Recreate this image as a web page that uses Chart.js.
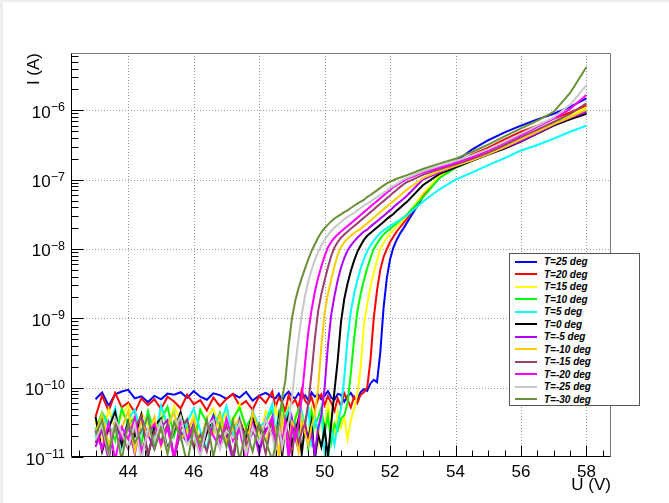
<!DOCTYPE html>
<html>
<head>
<meta charset="utf-8">
<script src="https://cdn.jsdelivr.net/npm/chart.js@4.4.0/dist/chart.umd.min.js"></script>
<style>
  html, body { margin: 0; padding: 0; background: #fff; }
  #wrap { position: relative; width: 669px; height: 503px; }
  #legend {
    position: absolute; left: 509px; top: 253px; width: 131px; height: 153px;
    box-sizing: border-box; background: #fff; border: 1px solid #555;
    padding-top: 1.5px;
    font: italic bold 10px "Liberation Sans", Arial, sans-serif; color: #000;
  }
  .item { height: 12.5px; display: flex; align-items: center; white-space: nowrap; }
  .swatch { display: inline-block; width: 22px; height: 2px; margin-left: 5px; margin-right: 7px; }
</style>
</head>
<body>
<div id="wrap">
  <canvas id="myChart" width="669" height="503"></canvas>
  <div id="legend"></div>
</div>
<script>
// voltage grid (V)
const U = [
  43.0, 43.2, 43.4, 43.6, 43.8, 44.0, 44.2, 44.4, 44.6, 44.8,
  45.0, 45.2, 45.4, 45.6, 45.8, 46.0, 46.2, 46.4, 46.6, 46.8,
  47.0, 47.2, 47.4, 47.6, 47.8, 48.0, 48.2, 48.4, 48.5, 48.6,
  48.7, 48.8, 48.9, 49.0, 49.1, 49.2, 49.3, 49.4, 49.5, 49.6,
  49.7, 49.8, 49.9, 50.0, 50.1, 50.2, 50.3, 50.4, 50.5, 50.6,
  50.7, 50.8, 50.9, 51.0, 51.1, 51.2, 51.3, 51.4, 51.5, 51.6,
  51.7, 51.8, 51.9, 52.0, 52.1, 52.2, 52.3, 52.4, 52.5, 53.0,
  53.5, 54.0, 54.5, 55.0, 55.5, 56.0, 56.5, 57.0, 57.5, 58.0
]

const X_TICKS = [44, 46, 48, 50, 52, 54, 56, 58]
const Y_TICKS = [1e-11, 1e-10, 1e-9, 1e-8, 1e-7, 1e-6]

const LABELS = ['T=25 deg', 'T=20 deg', 'T=15 deg', 'T=10 deg', 'T=5 deg', 'T=0 deg',
  'T=-5 deg', 'T=-10 deg', 'T=-15 deg', 'T=-20 deg', 'T=-25 deg', 'T=-30 deg']
const COLORS = ['#0000ff', '#ff0000', '#ffff00', '#00ff00', '#00ffff', '#000000',
  '#b300ff', '#ffcc00', '#99406e', '#ff00ff', '#c8c8c8', '#6a9038']

// current (A) for each temperature
const I_25 = [
  6.8e-11, 8.5e-11, 5.5e-11, 8.0e-11, 8.8e-11, 9.3e-11, 7.0e-11, 7.5e-11, 6.2e-11, 7.6e-11,
  6.8e-11, 8.2e-11, 7.9e-11, 8.6e-11, 7.1e-11, 8.9e-11, 7.4e-11, 6.7e-11, 8.3e-11, 7.8e-11,
  6.9e-11, 8.1e-11, 7.2e-11, 8.7e-11, 6.5e-11, 7.7e-11, 8.4e-11, 7.3e-11, 7.0e-11, 8.2e-11,
  6.4e-11, 7.9e-11, 8.8e-11, 7.5e-11, 6.9e-11, 8.3e-11, 7.1e-11, 7.8e-11, 6.6e-11, 8.5e-11,
  7.4e-11, 8.0e-11, 6.8e-11, 7.6e-11, 8.9e-11, 7.2e-11, 6.7e-11, 8.1e-11, 7.9e-11, 6.3e-11,
  7.5e-11, 8.4e-11, 7.0e-11, 6.8e-11, 8.6e-11, 9.5e-11, 9.0e-11, 1.15e-10, 1.3e-10, 1.2e-10,
  3.2e-10, 1.4e-9, 3.8e-9, 7.1e-9, 1.05e-8, 1.35e-8, 1.66e-8, 1.95e-8, 2.34e-8, 5.6e-8,
  1.05e-7, 1.82e-7, 2.7e-7, 3.7e-7, 4.8e-7, 6.0e-7, 7.4e-7, 8.9e-7, 1.12e-6, 1.48e-6
]
const I_20 = [
  3.8e-11, 7.7e-11, 4.6e-11, 8.4e-11, 5.2e-11, 6.1e-11, 4.4e-11, 7.0e-11, 5.6e-11, 6.8e-11,
  4.9e-11, 7.4e-11, 6.3e-11, 5.0e-11, 7.9e-11, 5.8e-11, 6.6e-11, 4.7e-11, 7.2e-11, 5.4e-11,
  6.9e-11, 8.1e-11, 5.5e-11, 6.4e-11, 4.8e-11, 7.6e-11, 6.0e-11, 8.8e-11, 5.3e-11, 7.1e-11,
  6.2e-11, 4.5e-11, 7.8e-11, 5.9e-11, 6.7e-11, 5.1e-11, 9.2e-11, 6.5e-11, 5.7e-11, 7.3e-11,
  4.9e-11, 6.8e-11, 8.0e-11, 5.6e-11, 7.5e-11, 6.1e-11, 4.6e-11, 7.0e-11, 5.4e-11, 8.3e-11,
  6.6e-11, 5.2e-11, 7.4e-11, 6.0e-11, 7.9e-11, 8.6e-11, 1.0e-10, 2.5e-10, 1.0e-9, 2.5e-9,
  5.0e-9, 7.6e-9, 1.0e-8, 1.26e-8, 1.5e-8, 1.78e-8, 2.04e-8, 2.34e-8, 2.7e-8, 6.0e-8,
  1.07e-7, 1.7e-7, 2.3e-7, 2.9e-7, 3.8e-7, 4.9e-7, 6.0e-7, 7.6e-7, 9.3e-7, 1.17e-6
]
const I_15 = [
  3.2e-11, 1.8e-11, 4.9e-11, 2.5e-11, 3.9e-11, 5.6e-11, 2.1e-11, 4.3e-11, 3.0e-11, 1.6e-11,
  4.7e-11, 2.7e-11, 5.4e-11, 3.4e-11, 2.0e-11, 4.1e-11, 1.5e-11, 3.7e-11, 5.0e-11, 2.4e-11,
  4.4e-11, 3.1e-11, 5.8e-11, 2.2e-11, 3.6e-11, 1.7e-11, 4.6e-11, 2.9e-11, 5.2e-11, 3.3e-11,
  1.9e-11, 4.0e-11, 5.5e-11, 2.6e-11, 3.8e-11, 1.4e-11, 4.8e-11, 3.0e-11, 2.3e-11, 5.1e-11,
  3.5e-11, 1.6e-11, 4.2e-11, 2.8e-11, 5.7e-11, 3.3e-11, 2.0e-11, 4.5e-11, 2.7e-11, 3.9e-11,
  1.8e-11, 3.4e-11, 5.0e-11, 8.0e-11, 2.0e-10, 7.9e-10, 1.6e-9, 2.8e-9, 4.5e-9, 6.9e-9,
  1.0e-8, 1.23e-8, 1.45e-8, 1.66e-8, 1.86e-8, 2.1e-8, 2.34e-8, 2.6e-8, 2.95e-8, 6.3e-8,
  1.12e-7, 1.55e-7, 1.95e-7, 2.45e-7, 3.1e-7, 3.8e-7, 5.0e-7, 6.8e-7, 8.5e-7, 1.1e-6
]
const I_10 = [
  2.4e-11, 4.4e-11, 3.0e-11, 1.7e-11, 5.0e-11, 2.8e-11, 3.8e-11, 1.5e-11, 4.6e-11, 2.2e-11,
  3.4e-11, 5.3e-11, 2.0e-11, 4.1e-11, 2.6e-11, 1.4e-11, 4.8e-11, 3.1e-11, 2.3e-11, 4.3e-11,
  1.8e-11, 3.6e-11, 5.1e-11, 2.7e-11, 4.0e-11, 1.6e-11, 3.3e-11, 4.7e-11, 2.1e-11, 3.9e-11,
  5.5e-11, 2.9e-11, 4.2e-11, 1.9e-11, 3.5e-11, 4.9e-11, 2.5e-11, 3.2e-11, 1.3e-11, 4.5e-11,
  2.8e-11, 3.7e-11, 5.2e-11, 2.2e-11, 4.0e-11, 1.6e-11, 3.0e-11, 2.4e-11, 3.6e-11, 4.0e-11,
  6.0e-11, 1.6e-10, 5.0e-10, 1.26e-9, 2.24e-9, 3.55e-9, 5.25e-9, 7.4e-9, 1.0e-8, 1.2e-8,
  1.41e-8, 1.62e-8, 1.78e-8, 1.95e-8, 2.14e-8, 2.34e-8, 2.57e-8, 2.82e-8, 3.1e-8, 5.5e-8,
  1.05e-7, 1.48e-7, 1.86e-7, 2.34e-7, 2.95e-7, 3.7e-7, 4.7e-7, 6.5e-7, 7.9e-7, 9.8e-7
]
const I_5 = [
  1.9e-11, 4.2e-11, 2.6e-11, 5.1e-11, 1.4e-11, 3.5e-11, 4.8e-11, 2.2e-11, 3.9e-11, 1.6e-11,
  5.5e-11, 2.9e-11, 4.4e-11, 1.8e-11, 3.2e-11, 5.0e-11, 2.4e-11, 1.3e-11, 4.0e-11, 3.0e-11,
  5.4e-11, 2.0e-11, 3.7e-11, 1.5e-11, 4.6e-11, 2.7e-11, 3.3e-11, 5.8e-11, 2.1e-11, 4.1e-11,
  1.2e-11, 3.6e-11, 4.9e-11, 2.5e-11, 3.1e-11, 1.7e-11, 4.5e-11, 2.8e-11, 5.2e-11, 1.4e-11,
  3.8e-11, 2.3e-11, 4.3e-11, 1.1e-11, 8.0e-12, 2.6e-11, 1.5e-11, 3.0e-11, 5.0e-11, 1.4e-10,
  5.0e-10, 1.26e-9, 2.24e-9, 3.55e-9, 5.25e-9, 7.2e-9, 9.3e-9, 1.12e-8, 1.32e-8, 1.51e-8,
  1.7e-8, 1.86e-8, 2.0e-8, 2.14e-8, 2.3e-8, 2.45e-8, 2.63e-8, 2.82e-8, 3.0e-8, 4.8e-8,
  7.2e-8, 1.0e-7, 1.26e-7, 1.62e-7, 2.04e-7, 2.63e-7, 3.16e-7, 3.9e-7, 4.9e-7, 6.0e-7
]
const I_0 = [
  3.8e-11, 1.2e-11, 2.6e-11, 4.5e-11, 1.5e-11, 3.3e-11, 2.0e-11, 4.1e-11, 1.0e-11, 2.8e-11,
  3.6e-11, 1.3e-11, 2.4e-11, 4.4e-11, 1.7e-11, 3.0e-11, 1.1e-11, 2.2e-11, 3.9e-11, 1.4e-11,
  2.7e-11, 9.0e-12, 3.4e-11, 1.9e-11, 4.2e-11, 1.2e-11, 2.5e-11, 3.1e-11, 1.6e-11, 3.7e-11,
  1.0e-11, 2.9e-11, 4.0e-11, 1.5e-11, 2.3e-11, 3.5e-11, 1.1e-11, 2.8e-11, 1.8e-11, 3.2e-11,
  9.0e-12, 2.1e-11, 1.4e-11, 2.6e-11, 1.0e-11, 3.0e-11, 8.9e-11, 2.5e-10, 8.9e-10, 1.9e-9,
  3.16e-9, 4.8e-9, 6.8e-9, 9.1e-9, 1.12e-8, 1.35e-8, 1.55e-8, 1.7e-8, 1.86e-8, 2.04e-8,
  2.24e-8, 2.45e-8, 2.7e-8, 2.95e-8, 3.2e-8, 3.55e-8, 3.9e-8, 4.3e-8, 4.7e-8, 8.3e-8,
  1.2e-7, 1.5e-7, 1.86e-7, 2.3e-7, 2.8e-7, 3.55e-7, 4.6e-7, 6.0e-7, 7.4e-7, 8.9e-7
]
const I_m5 = [
  1.4e-11, 2.5e-11, 9.0e-12, 3.2e-11, 1.8e-11, 2.9e-11, 1.1e-11, 3.7e-11, 2.1e-11, 1.3e-11,
  2.7e-11, 3.4e-11, 1.0e-11, 2.3e-11, 1.6e-11, 3.0e-11, 1.2e-11, 2.6e-11, 3.8e-11, 1.5e-11,
  2.0e-11, 9.0e-12, 3.3e-11, 1.7e-11, 2.8e-11, 1.1e-11, 3.5e-11, 2.2e-11, 1.4e-11, 3.0e-11,
  1.8e-11, 2.4e-11, 1.0e-11, 3.6e-11, 1.9e-11, 1.3e-11, 2.7e-11, 3.1e-11, 1.5e-11, 2.2e-11,
  1.1e-11, 2.6e-11, 4.0e-11, 1.0e-10, 4.0e-10, 1.12e-9, 2.1e-9, 3.55e-9, 5.4e-9, 7.4e-9,
  9.5e-9, 1.12e-8, 1.29e-8, 1.45e-8, 1.62e-8, 1.78e-8, 1.9e-8, 2.1e-8, 2.3e-8, 2.5e-8,
  2.75e-8, 3.0e-8, 3.3e-8, 3.6e-8, 4.0e-8, 4.4e-8, 4.8e-8, 5.25e-8, 5.75e-8, 1.0e-7,
  1.26e-7, 1.58e-7, 1.9e-7, 2.34e-7, 2.9e-7, 3.6e-7, 4.7e-7, 6.2e-7, 7.8e-7, 9.5e-7
]
const I_m10 = [
  2.2e-11, 4.1e-11, 1.5e-11, 3.0e-11, 2.6e-11, 4.6e-11, 1.2e-11, 3.4e-11, 2.0e-11, 3.8e-11,
  1.4e-11, 2.9e-11, 4.3e-11, 1.8e-11, 2.4e-11, 3.6e-11, 1.1e-11, 3.1e-11, 2.1e-11, 4.0e-11,
  1.6e-11, 2.7e-11, 3.5e-11, 1.3e-11, 4.4e-11, 2.3e-11, 1.7e-11, 3.3e-11, 2.5e-11, 1.0e-11,
  3.9e-11, 2.0e-11, 1.4e-11, 3.2e-11, 2.6e-11, 1.2e-11, 3.7e-11, 2.2e-11, 1.5e-11, 2.8e-11,
  4.0e-11, 1.0e-10, 4.0e-10, 1.2e-9, 2.24e-9, 3.6e-9, 5.6e-9, 8.3e-9, 1.07e-8, 1.26e-8,
  1.41e-8, 1.55e-8, 1.7e-8, 1.82e-8, 1.95e-8, 2.14e-8, 2.34e-8, 2.57e-8, 2.82e-8, 3.1e-8,
  3.4e-8, 3.7e-8, 4.1e-8, 4.5e-8, 4.9e-8, 5.4e-8, 5.9e-8, 6.5e-8, 7.1e-8, 1.05e-7,
  1.32e-7, 1.58e-7, 1.9e-7, 2.34e-7, 2.95e-7, 3.8e-7, 4.9e-7, 6.3e-7, 7.9e-7, 1.02e-6
]
const I_m15 = [
  1.6e-11, 2.8e-11, 1.0e-11, 3.3e-11, 2.0e-11, 1.3e-11, 2.6e-11, 3.9e-11, 1.1e-11, 2.3e-11,
  1.7e-11, 3.0e-11, 9.0e-12, 2.5e-11, 3.5e-11, 1.4e-11, 2.1e-11, 1.2e-11, 3.1e-11, 1.9e-11,
  2.7e-11, 1.0e-11, 3.4e-11, 1.5e-11, 2.2e-11, 2.9e-11, 1.1e-11, 3.6e-11, 1.8e-11, 2.4e-11,
  1.3e-11, 3.2e-11, 2.0e-11, 1.0e-11, 2.7e-11, 1.6e-11, 2.3e-11, 3.0e-11, 6.0e-11, 1.6e-10,
  5.0e-10, 1.26e-9, 2.24e-9, 3.55e-9, 5.4e-9, 7.9e-9, 1.05e-8, 1.26e-8, 1.45e-8, 1.62e-8,
  1.78e-8, 1.95e-8, 2.14e-8, 2.34e-8, 2.57e-8, 2.82e-8, 3.1e-8, 3.4e-8, 3.7e-8, 4.1e-8,
  4.5e-8, 4.9e-8, 5.4e-8, 5.9e-8, 6.5e-8, 7.1e-8, 7.8e-8, 8.5e-8, 9.1e-8, 1.17e-7,
  1.41e-7, 1.66e-7, 2.0e-7, 2.45e-7, 3.16e-7, 4.1e-7, 5.25e-7, 6.8e-7, 8.9e-7, 1.26e-6
]
const I_m20 = [
  2.4e-11, 1.3e-11, 3.1e-11, 9.0e-12, 2.7e-11, 1.8e-11, 3.7e-11, 1.2e-11, 2.2e-11, 3.0e-11,
  1.5e-11, 2.6e-11, 1.0e-11, 3.4e-11, 1.9e-11, 2.8e-11, 1.1e-11, 3.2e-11, 2.0e-11, 1.4e-11,
  3.6e-11, 1.7e-11, 2.5e-11, 9.0e-12, 3.0e-11, 1.6e-11, 2.3e-11, 3.8e-11, 1.2e-11, 2.9e-11,
  1.5e-11, 3.3e-11, 1.1e-11, 2.6e-11, 1.8e-11, 3.0e-11, 7.0e-11, 2.2e-10, 6.3e-10, 1.32e-9,
  2.4e-9, 3.8e-9, 5.6e-9, 7.9e-9, 1.05e-8, 1.26e-8, 1.45e-8, 1.62e-8, 1.78e-8, 1.95e-8,
  2.14e-8, 2.34e-8, 2.57e-8, 2.82e-8, 3.1e-8, 3.4e-8, 3.7e-8, 4.1e-8, 4.5e-8, 4.9e-8,
  5.4e-8, 5.9e-8, 6.5e-8, 7.1e-8, 7.8e-8, 8.3e-8, 8.9e-8, 9.5e-8, 1.02e-7, 1.26e-7,
  1.48e-7, 1.74e-7, 2.1e-7, 2.63e-7, 3.4e-7, 4.4e-7, 5.75e-7, 7.6e-7, 1.05e-6, 1.66e-6
]
const I_m25 = [
  1.8e-11, 2.9e-11, 1.1e-11, 3.6e-11, 2.2e-11, 1.4e-11, 3.0e-11, 9.0e-12, 2.5e-11, 1.7e-11,
  3.3e-11, 1.2e-11, 2.6e-11, 3.9e-11, 1.5e-11, 2.1e-11, 1.0e-11, 2.8e-11, 3.4e-11, 1.3e-11,
  2.4e-11, 1.9e-11, 3.1e-11, 1.1e-11, 2.7e-11, 1.6e-11, 3.5e-11, 2.0e-11, 1.2e-11, 2.9e-11,
  1.4e-11, 2.3e-11, 3.2e-11, 7.0e-11, 2.0e-10, 5.0e-10, 1.12e-9, 2.1e-9, 3.4e-9, 5.0e-9,
  6.9e-9, 9.1e-9, 1.12e-8, 1.35e-8, 1.58e-8, 1.82e-8, 2.04e-8, 2.24e-8, 2.45e-8, 2.7e-8,
  2.9e-8, 3.1e-8, 3.3e-8, 3.6e-8, 3.9e-8, 4.2e-8, 4.5e-8, 4.8e-8, 5.25e-8, 5.6e-8,
  6.0e-8, 6.5e-8, 6.9e-8, 7.6e-8, 8.1e-8, 8.7e-8, 9.3e-8, 1.0e-7, 1.05e-7, 1.32e-7,
  1.58e-7, 1.86e-7, 2.24e-7, 2.75e-7, 3.55e-7, 4.6e-7, 6.0e-7, 7.9e-7, 1.2e-6, 2.3e-6
]
const I_m30 = [
  2.1e-11, 3.4e-11, 1.2e-11, 2.8e-11, 9.0e-12, 3.1e-11, 1.6e-11, 2.4e-11, 3.8e-11, 1.3e-11,
  2.6e-11, 1.1e-11, 3.2e-11, 2.0e-11, 8.0e-12, 2.7e-11, 1.5e-11, 3.5e-11, 1.0e-11, 2.9e-11,
  1.4e-11, 3.3e-11, 9.0e-12, 2.5e-11, 1.2e-11, 3.0e-11, 1.7e-11, 9.0e-12, 1.5e-11, 3.0e-11,
  7.0e-11, 1.26e-10, 4.0e-10, 1.0e-9, 1.78e-9, 2.7e-9, 3.8e-9, 5.2e-9, 7.1e-9, 9.3e-9,
  1.17e-8, 1.45e-8, 1.74e-8, 2.0e-8, 2.24e-8, 2.5e-8, 2.75e-8, 2.95e-8, 3.16e-8, 3.4e-8,
  3.6e-8, 3.9e-8, 4.2e-8, 4.5e-8, 4.8e-8, 5.1e-8, 5.6e-8, 6.0e-8, 6.5e-8, 7.0e-8,
  7.6e-8, 8.2e-8, 8.8e-8, 9.3e-8, 9.8e-8, 1.03e-7, 1.07e-7, 1.11e-7, 1.15e-7, 1.42e-7,
  1.7e-7, 2.0e-7, 2.5e-7, 3.2e-7, 4.2e-7, 5.5e-7, 7.1e-7, 9.5e-7, 1.78e-6, 4.2e-6
]

const SERIES = [I_25, I_20, I_15, I_10, I_5, I_0, I_m5, I_m10, I_m15, I_m20, I_m25, I_m30]

const FONT = '"Liberation Sans", Arial, "DejaVu Sans", sans-serif'

// ROOT-like frame: dotted grid, grey top/right border, inner tick marks, 10^n labels
const rootFrame = {
    id: 'rootFrame',
    beforeDraw(chart) {
        const ctx = chart.ctx
        ctx.save()
        ctx.fillStyle = '#ffffff'
        ctx.fillRect(0, 0, chart.width, chart.height)
        ctx.fillStyle = '#eeeeee'
        ctx.fillRect(0, 0, chart.width, 2)
        ctx.fillRect(0, 0, 3, chart.height)
        ctx.restore()
    },
    beforeDatasetsDraw(chart) {
        const { ctx, chartArea: a, scales: { x, y } } = chart
        ctx.save()
        ctx.strokeStyle = '#9a9a9a'
        ctx.lineWidth = 1
        ctx.setLineDash([1, 2])
        ctx.beginPath()
        X_TICKS.forEach((v) => {
            const px = Math.round(x.getPixelForValue(v)) + 0.5
            ctx.moveTo(px, a.top)
            ctx.lineTo(px, a.bottom)
        })
        Y_TICKS.forEach((v) => {
            const py = Math.round(y.getPixelForValue(v)) + 0.5
            if (py < a.bottom - 2) {
                ctx.moveTo(a.left, py)
                ctx.lineTo(a.right, py)
            }
        })
        ctx.stroke()
        ctx.restore()
    },
    afterDatasetsDraw(chart) {
        const { ctx, chartArea: a, scales: { x, y } } = chart
        const L = Math.round(a.left) + 0.5
        const R = Math.round(a.right) - 0.5
        const T = Math.round(a.top) + 0.5
        const B = Math.round(a.bottom) - 0.5
        ctx.save()
        ctx.lineWidth = 1
        ctx.strokeStyle = '#7a7a7a'
        ctx.beginPath()
        ctx.moveTo(L, T)
        ctx.lineTo(R, T)
        ctx.lineTo(R, B)
        ctx.stroke()

        ctx.strokeStyle = '#000000'
        ctx.beginPath()
        ctx.moveTo(L, T)
        ctx.lineTo(L, B)
        ctx.lineTo(R, B)
        for (let v = 42.5; v < x.max; v += 0.5) {
            const px = Math.round(x.getPixelForValue(v)) + 0.5
            const len = v % 2 === 0 ? 11 : 6
            ctx.moveTo(px, B)
            ctx.lineTo(px, B - len)
        }
        for (let e = -11; e <= -6; e++) {
            for (let k = 1; k <= 9; k++) {
                const v = k * Math.pow(10, e)
                if (v > y.max) break
                const py = Math.round(y.getPixelForValue(v)) + 0.5
                const len = k === 1 ? 12 : 7
                ctx.moveTo(L, py)
                ctx.lineTo(L + len, py)
            }
        }
        ctx.stroke()

        // y labels as 10 with a raised exponent
        ctx.fillStyle = '#000000'
        ctx.textBaseline = 'alphabetic'
        ctx.textAlign = 'left'
        Y_TICKS.forEach((v) => {
            const py = y.getPixelForValue(v)
            const exp = '\u2212' + String(-Math.round(Math.log10(v)))
            ctx.font = '12.5px ' + FONT
            const wExp = ctx.measureText(exp).width
            ctx.font = '17px ' + FONT
            const wBase = ctx.measureText('10').width
            const right = a.left - 6
            ctx.fillText('10', right - wExp - wBase, py + 7.5)
            ctx.font = '12.5px ' + FONT
            ctx.fillText(exp, right - wExp, py + 1)
        })
        ctx.restore()
    }
}

const datasets = SERIES.map((values, i) => {
    return {
        label: LABELS[i],
        borderColor: COLORS[i],
        backgroundColor: COLORS[i],
        borderWidth: 2,
        pointRadius: 0,
        tension: 0,
        fill: false,
        clip: 0,
        order: SERIES.length - i,
        data: U.map((u, j) => ({ x: u, y: values[j] }))
    }
})

var ctx = document.getElementById('myChart').getContext('2d')
var chart = new Chart(ctx, {
    type: 'line',
    data: { datasets: datasets },
    plugins: [rootFrame],
    options: {
        responsive: false,
        animation: false,
        events: [],
        layout: { padding: { top: 53, right: 58, left: 0, bottom: 0 } },
        plugins: {
            legend: { display: false },
            tooltip: { enabled: false }
        },
        scales: {
            x: {
                type: 'linear',
                min: 42.25,
                max: 58.75,
                afterBuildTicks: (scale) => { scale.ticks = X_TICKS.map((v) => ({ value: v })) },
                afterFit: (scale) => { scale.height = 46 },
                grid: { display: false, drawTicks: false },
                border: { display: false },
                ticks: {
                    autoSkip: false,
                    maxRotation: 0,
                    padding: 5,
                    color: '#000',
                    font: { family: FONT, size: 17 },
                    callback: (v) => String(v)
                },
                title: {
                    display: true,
                    text: 'U (V)',
                    align: 'end',
                    color: '#000',
                    font: { family: FONT, size: 17 },
                    padding: { top: 0, bottom: 7 }
                }
            },
            y: {
                type: 'logarithmic',
                min: 1e-11,
                max: 6.7e-6,
                afterBuildTicks: (scale) => { scale.ticks = Y_TICKS.map((v) => ({ value: v })) },
                afterFit: (scale) => { scale.width = 71 },
                grid: { display: false, drawTicks: false },
                border: { display: false },
                ticks: { display: false },
                title: {
                    display: true,
                    text: 'I (A)',
                    align: 'end',
                    color: '#000',
                    font: { family: FONT, size: 17 },
                    padding: { top: 24, bottom: 0 }
                }
            }
        }
    }
})

// legend box, built from the datasets
const legendBox = document.getElementById('legend')
chart.data.datasets.forEach((ds) => {
    const row = document.createElement('div')
    row.className = 'item'
    const swatch = document.createElement('span')
    swatch.className = 'swatch'
    swatch.style.background = ds.borderColor
    const text = document.createElement('span')
    text.textContent = ds.label
    row.append(swatch, text)
    legendBox.append(row)
})
</script>
</body>
</html>
